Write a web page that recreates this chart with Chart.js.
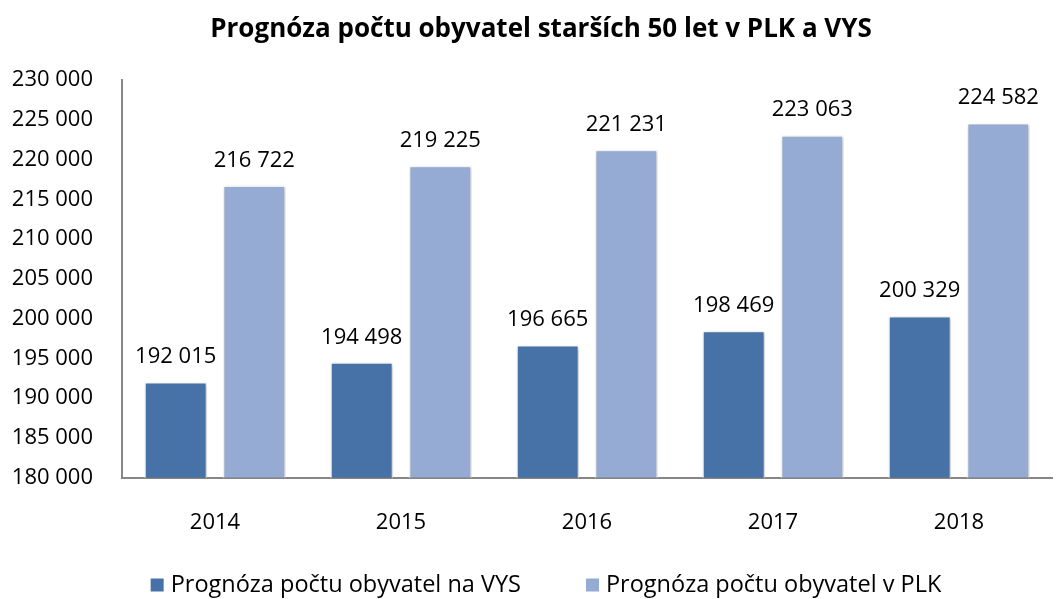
<!DOCTYPE html>
<html>
<head>
<meta charset="utf-8">
<script src="https://cdn.jsdelivr.net/npm/chart.js@4"></script>
<style>
  html, body { margin: 0; padding: 0; background: #fff; }
  #wrap { width: 1062px; height: 599px; }
</style>
</head>
<body>
<div id="wrap"><canvas id="chart" width="1062" height="599"></canvas></div>
<script>
// Data
const years = ['2014', '2015', '2016', '2017', '2018'];
const vysValues = [192015, 194498, 196665, 198469, 200329];
const plkValues = [216722, 219225, 221231, 223063, 224582];
const seriesNames = ['Prognóza počtu obyvatel na VYS', 'Prognóza počtu obyvatel v PLK'];
const seriesColors = ['#4672A8', '#95ABD3'];
const chartTitle = 'Prognóza počtu obyvatel starších 50 let v PLK a VYS';

const FONT = '"Open Sans", "Noto Sans", sans-serif';

// Space-separated thousands, e.g. 216 722
function fmt(v) {
  return String(v).replace(/\B(?=(\d{3})+(?!\d))/g, ' ');
}

// Draws the value above each bar
const valueLabels = {
  id: 'valueLabels',
  afterDatasetsDraw(chart) {
    const ctx = chart.ctx;
    ctx.save();
    ctx.font = '22px ' + FONT;
    ctx.fillStyle = '#000';
    ctx.textAlign = 'center';
    ctx.textBaseline = 'middle';
    chart.data.datasets.forEach((ds, i) => {
      chart.getDatasetMeta(i).data.forEach((bar, j) => {
        ctx.fillText(fmt(ds.data[j]), bar.x, bar.y - 25);
      });
    });
    ctx.restore();
  }
};

// Soft shadow behind the bars
const barShadow = {
  id: 'barShadow',
  beforeDatasetsDraw(chart) {
    chart.ctx.save();
    chart.ctx.shadowColor = 'rgba(0,0,0,0.25)';
    chart.ctx.shadowBlur = 4;
    chart.ctx.shadowOffsetX = 1;
    chart.ctx.shadowOffsetY = 1;
  },
  afterDatasetsDraw(chart) {
    chart.ctx.restore();
  }
};

// Title and legend drawn by hand so they sit where the original has them
const titleAndLegend = {
  id: 'titleAndLegend',
  afterDraw(chart) {
    const ctx = chart.ctx;
    ctx.save();

    // title
    ctx.font = 'bold 26px ' + FONT;
    ctx.fillStyle = '#000';
    ctx.textAlign = 'center';
    ctx.textBaseline = 'middle';
    ctx.fillText(chartTitle, 541, 30);

    // legend
    const box = 13, boxGap = 7, itemGap = 65;
    const y = 585;
    ctx.font = '23.5px ' + FONT;
    ctx.textAlign = 'left';
    const widths = chart.data.datasets.map(ds => box + boxGap + ctx.measureText(ds.label).width);
    const total = widths.reduce((a, b) => a + b, 0) + itemGap * (widths.length - 1);
    let x = 546 - total / 2;
    chart.data.datasets.forEach((ds, i) => {
      ctx.fillStyle = ds.backgroundColor;
      ctx.fillRect(x, y - box / 2, box, box);
      ctx.fillStyle = '#000';
      ctx.fillText(ds.label, x + box + boxGap, y);
      x += widths[i] + itemGap;
    });
    ctx.restore();
  }
};

new Chart(document.getElementById('chart'), {
  type: 'bar',
  data: {
    labels: years,
    datasets: [
      {
        label: seriesNames[0],
        data: vysValues,
        backgroundColor: seriesColors[0],
        borderColor: '#ffffff',
        borderWidth: 1.5,
      },
      {
        label: seriesNames[1],
        data: plkValues,
        backgroundColor: seriesColors[1],
        borderColor: '#ffffff',
        borderWidth: 1.5,
      },
    ],
  },
  options: {
    responsive: false,
    animation: false,
    layout: { padding: { left: 8, right: 10, top: 80, bottom: 31 } },
    datasets: {
      bar: { categoryPercentage: 0.845, barPercentage: 0.8 }
    },
    plugins: {
      title: { display: false },
      legend: { display: false },
      tooltip: { enabled: false },
    },
    scales: {
      x: {
        grid: { display: false, drawTicks: false },
        border: { display: true, color: '#868686', width: 2 },
        ticks: { color: '#000', font: { family: FONT, size: 22 }, padding: 32 },
      },
      y: {
        min: 180000,
        max: 230000,
        grid: { display: false, drawTicks: false },
        border: { display: true, color: '#868686', width: 2 },
        afterFit(scale) { scale.width = 114; },
        ticks: {
          stepSize: 5000,
          color: '#000',
          font: { family: FONT, size: 22 },
          padding: 29,
          callback: v => fmt(v),
        },
      },
    },
  },
  plugins: [barShadow, valueLabels, titleAndLegend],
});
</script>
</body>
</html>
